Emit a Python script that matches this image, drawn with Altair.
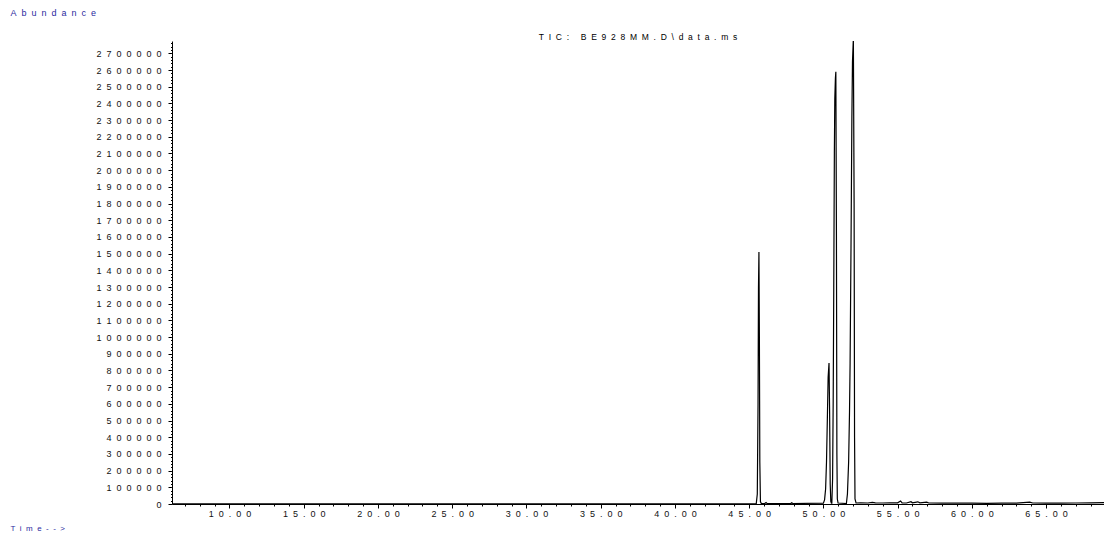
import altair as alt
import pandas as pd

# ---- data ----
base_t = [6.13, 8.0, 10.0, 14.0, 18.0, 22.0, 26.0, 30.0, 34.0, 38.0, 42.0, 45.30]
base_a = [1500, 1500, 1500, 1500, 1500, 1500, 1500, 1500, 1500, 1500, 1500, 1500]

p1_t = [45.48, 45.55, 45.60, 45.63, 45.66, 45.69, 45.72, 45.76, 45.82, 46.05, 46.14, 46.22, 47.80, 47.87, 47.94]
p1_a = [3000, 60000, 600000, 1300000, 1510000, 1000000, 250000, 15000, 3000, 2500, 9000, 2500, 2500, 7000, 3000]

p2_t = [50.00, 50.08, 50.15, 50.21, 50.27, 50.32, 50.38, 50.42, 50.46, 50.50, 50.54]
p2_a = [5000, 25000, 90000, 250000, 520000, 760000, 845000, 550000, 120000, 15000, 5000]

p3_t = [50.57, 50.62, 50.66, 50.70, 50.74, 50.77, 50.81, 50.84, 50.88, 50.91, 50.94, 50.99]
p3_a = [5000, 150000, 600000, 1300000, 2105000, 2430000, 2550000, 2590000, 1600000, 300000, 30000, 6000]

p4_t = [51.55, 51.62, 51.70, 51.76, 51.80, 51.86, 51.92, 51.96, 52.02, 52.07, 52.10, 52.13, 52.20]
p4_a = [3000, 60000, 250000, 550000, 845000, 1530000, 2320000, 2650000, 2790000, 1800000, 400000, 30000, 6000]

tail_t = [52.5, 53.0, 53.3, 53.5, 54.0, 54.5, 55.0, 55.2, 55.3, 55.6, 55.9, 56.0, 56.36, 56.5,
          56.96, 57.1, 58.0, 59.0, 60.0, 61.0, 62.0, 63.0, 63.9, 64.1, 65.0, 66.0, 67.0, 68.0, 69.3]
tail_a = [7000, 6000, 10000, 7000, 6000, 7000, 7000, 18000, 7000, 6000, 14000, 7000, 13000, 7000,
          11000, 6000, 5000, 5000, 5000, 4000, 5000, 5000, 11000, 6000, 5000, 5000, 6000, 7000, 8000]

x_ticks = list(range(7, 69))              # minutes; labelled every 5
y_ticks = list(range(0, 2774001, 20000))  # abundance; labelled every 100000

title_text = "TIC: BE928MM.D\\data.ms"
y_title = "Abundance"
x_title = "Time-->"

FS = "\u2007"  # figure space used to imitate the wide letter spacing
FONT = "Liberation Sans"

df = pd.DataFrame({
    "time": base_t + p1_t + p2_t + p3_t + p4_t + tail_t,
    "abundance": base_a + p1_a + p2_a + p3_a + p4_a + tail_a,
})

x_axis = alt.Axis(
    values=x_ticks,
    format=".2f",
    labelExpr=f"datum.value % 5 === 0 ? join(split(datum.label, ''), '{FS}') : ''",
    labelOverlap=False,
    labelFont=FONT,
    labelFontSize=9,
    labelColor="#111111",
    labelPadding=1,
    tickSize={"condition": {"test": "datum.value % 5 === 0", "value": 4}, "value": 2},
    tickColor="black",
    domainColor="black",
    grid=False,
    title=FS.join(x_title),
    titleFont=FONT,
    titleFontSize=8,
    titleFontWeight="normal",
    titleColor="#2a2aa0",
    titleX=-162,
    titleY=24,
    titleAlign="left",
    titleBaseline="middle",
)

y_axis = alt.Axis(
    values=y_ticks,
    format="d",
    labelExpr=f"datum.value % 100000 === 0 ? join(split(datum.label, ''), '{FS}') : ''",
    labelOverlap=False,
    labelFont=FONT,
    labelFontSize=9,
    labelColor="#111111",
    labelPadding=7,
    tickSize={"condition": {"test": "datum.value % 100000 === 0", "value": 4}, "value": 1.5},
    tickColor="black",
    domainColor="black",
    grid=False,
    title=FS.join(y_title),
    titleFont=FONT,
    titleFontSize=9,
    titleFontWeight="normal",
    titleColor="#2a2aa0",
    titleAngle=0,
    titleX=-162,
    titleY=-29,
    titleAlign="left",
    titleBaseline="middle",
)

chart = alt.Chart(df).mark_line(color="black", strokeWidth=1.2, clip=True).encode(
    x=alt.X("time:Q", scale=alt.Scale(domain=[6.13, 68.9], nice=False, zero=False), axis=x_axis),
    y=alt.Y("abundance:Q", scale=alt.Scale(domain=[0, 2774000], nice=False), axis=y_axis),
    order="time:Q",
).properties(
    width=932,
    height=463,
    autosize="none",
    background="white",
    padding={"left": 164, "top": 33, "right": 0, "bottom": 30},
    title=alt.TitleParams(
        text=FS.join(title_text),
        font=FONT,
        fontSize=8.5,
        fontWeight="normal",
        color="black",
        anchor="middle",
        offset=2,
        dy=35,
    ),
).configure_view(stroke=None)

chart.save("out.html", embed_options={"renderer": "svg", "actions": False})
